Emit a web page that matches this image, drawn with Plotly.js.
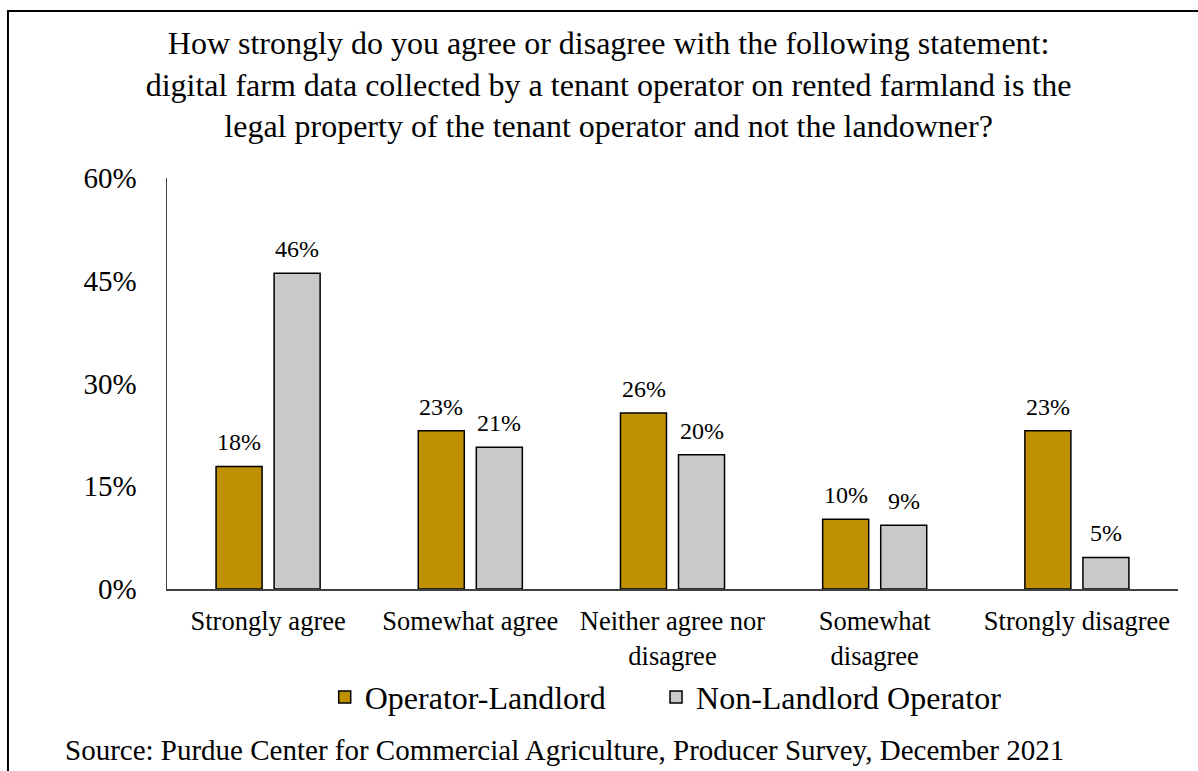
<!DOCTYPE html>
<html>
<head>
<meta charset="utf-8">
<script src="https://cdn.plot.ly/plotly-3.0.1.min.js"></script>
<style>
html,body{margin:0;padding:0;background:#fff;}
#chart{width:1198px;height:771px;}
</style>
</head>
<body>
<div id="chart"></div>
<script>
const categories = ["Strongly agree", "Somewhat agree", "Neither agree nor<br>disagree", "Somewhat<br>disagree", "Strongly disagree"];
const operatorLandlord = [17.9, 23.1, 25.7, 10.2, 23.1];
const nonLandlordOperator = [46.1, 20.7, 19.6, 9.3, 4.6];
const seriesNames = ["Operator-Landlord", "Non-Landlord Operator"];
const yTicks = [0, 15, 30, 45, 60];
const yTickLabels = ["0%", "15%", "30%", "45%", "60%"];

const FONT = "Liberation Serif";

const traces = [
  {
    type: "bar", name: seriesNames[0], x: categories, y: operatorLandlord,
    marker: {color: "#BF9000", line: {color: "#000", width: 1.5}},
    hoverinfo: "skip", legend: "legend"
  },
  {
    type: "bar", name: seriesNames[1], x: categories, y: nonLandlordOperator,
    marker: {color: "#C9C9C9", line: {color: "#000", width: 1.5}},
    hoverinfo: "skip", legend: "legend2"
  }
];

// value labels placed above each bar (data coords, small pixel offsets)
const labelAnnotations = [];
[operatorLandlord, nonLandlordOperator].forEach((vals, si) => {
  vals.forEach((v, i) => {
    labelAnnotations.push({
      x: categories[i], y: v, xref: "x", yref: "y",
      text: Math.round(v) + "%", showarrow: false,
      xanchor: "center", yanchor: "bottom",
      xshift: si === 0 ? -29 : 29, yshift: 9,
      font: {family: FONT, size: 24, color: "#000"}
    });
  });
});

const legendStyle = {
  orientation: "h", yanchor: "middle", y: -0.263, xanchor: "left",
  font: {family: FONT, size: 32, color: "#000"}, itemwidth: 30,
  bgcolor: "rgba(0,0,0,0)"
};

const layout = {
  width: 1198, height: 771,
  margin: {l: 167, r: 20, t: 178, b: 182},
  paper_bgcolor: "#fff", plot_bgcolor: "#fff",
  font: {family: FONT, color: "#000"},
  title: {
    text: "How strongly do you agree or disagree with the following statement:<br>digital farm data collected by a tenant operator on rented farmland is the<br>legal property of the tenant operator and not the landowner?",
    font: {family: FONT, size: 32, color: "#000"},
    x: 0.508, xref: "container", xanchor: "center",
    y: 1 - 54 / 771, yref: "container", yanchor: "middle"
  },
  barmode: "group", bargap: 0.426, bargroupgap: 0.207,
  xaxis: {
    type: "category", showline: true, linecolor: "#404040", linewidth: 1.5,
    showgrid: false, ticks: "", ticklabelstandoff: 8,
    tickfont: {family: FONT, size: 26.5, color: "#000"}, zeroline: false
  },
  yaxis: {
    range: [0, 60], tickmode: "array", tickvals: yTicks, ticktext: yTickLabels,
    showline: true, linecolor: "#404040", linewidth: 1.5,
    showgrid: false, zeroline: false, ticks: "", ticklabelstandoff: 23,
    tickfont: {family: FONT, size: 29, color: "#000"}
  },
  showlegend: true,
  legend: Object.assign({}, legendStyle, {x: 0.156}),
  legend2: Object.assign({}, legendStyle, {x: 0.4837}),
  annotations: labelAnnotations.concat([{
    text: "Source: Purdue Center for Commercial Agriculture, Producer Survey, December 2021",
    xref: "paper", yref: "paper", x: -0.1029, y: -0.392,
    xanchor: "left", yanchor: "middle", showarrow: false,
    font: {family: FONT, size: 29, color: "#000"}
  }]),
  shapes: [{
    type: "rect", xref: "paper", yref: "paper", layer: "below",
    x0: -0.1573, x1: 1.04, y0: -0.5, y1: 1.4063,
    line: {color: "#000", width: 2}, fillcolor: "rgba(0,0,0,0)"
  }]
};

Plotly.newPlot("chart", traces, layout, {displayModeBar: false, staticPlot: true});
</script>
</body>
</html>
